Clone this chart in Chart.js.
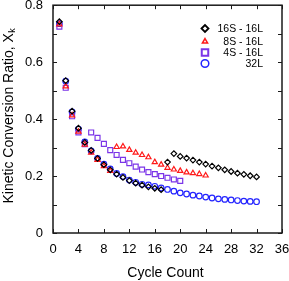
<!DOCTYPE html>
<html><head><meta charset="utf-8">
<script src="https://cdn.jsdelivr.net/npm/chart.js@4/dist/chart.umd.min.js"></script>
<style>html,body{margin:0;padding:0;background:#fff}#wrap{width:289px;height:281px;position:relative}</style>
</head><body><div id="wrap"><canvas id="c" width="289" height="281"></canvas></div>
<script>
const cycles16 = [1,2,3,4,5,6,7,8,9,10,11,12,13,14,15,16,17,18,19,20,21,22,23,24,25,26,27,28,29,30,31,32];
const values16 = [0.742,0.535,0.428,0.368,0.318,0.290,0.262,0.240,0.222,0.207,0.195,0.184,0.175,0.168,0.162,0.157,0.152,0.249,0.279,0.269,0.263,0.256,0.249,0.242,0.235,0.229,0.222,0.216,0.210,0.206,0.201,0.197];
const cycles8 = [1,2,3,4,5,6,7,8,9,10,11,12,13,14,15,16,17,18,19,20,21,22,23,24];
const values8 = [0.733,0.515,0.413,0.356,0.310,0.282,0.257,0.235,0.218,0.302,0.304,0.292,0.282,0.274,0.266,0.249,0.240,0.229,0.223,0.218,0.213,0.210,0.207,0.202];
const cycles4 = [1,2,3,4,5,6,7,8,9,10,11,12,13,14,15,16,17,18,19,20];
const values4 = [0.725,0.510,0.410,0.353,0.312,0.353,0.334,0.313,0.291,0.274,0.257,0.245,0.233,0.223,0.214,0.207,0.200,0.194,0.188,0.183];
const cycles32 = [1,2,3,4,5,6,7,8,9,10,11,12,13,14,15,16,17,18,19,20,21,22,23,24,25,26,27,28,29,30,31,32];
const values32 = [0.735,0.533,0.425,0.365,0.320,0.288,0.262,0.242,0.225,0.209,0.198,0.186,0.178,0.171,0.169,0.164,0.158,0.153,0.147,0.141,0.137,0.133,0.130,0.126,0.123,0.120,0.118,0.116,0.114,0.112,0.111,0.110];
const seriesNames = ['16S - 16L','8S - 16L','4S - 16L','32L'];
const xTickValues = [0,4,8,12,16,20,24,28,32,36];
const yTickValues = [0,0.2,0.4,0.6,0.8];
const yMinorTickValues = [0,0.1,0.2,0.3,0.4,0.5,0.6,0.7,0.8];
const xTitle = 'Cycle Count';
const yTitleMain = 'Kinetic Conversion Ratio, X';
const yTitleSub = 'k';

const FONT = '"Liberation Sans", Arial, sans-serif';
function pts(xs, ys){ return xs.map((x,i)=>({x:x,y:ys[i]})); }

const styles = [
  {color:'#000000', pointStyle:'rectRot', r:2.8, lr:3.5, lw:1.8},
  {color:'#FF1A1A', pointStyle:'triangle', r:3.0, lr:3.0, lw:1.5},
  {color:'#7B35E8', pointStyle:'rect', r:3.5, lr:4.6, lw:2.0},
  {color:'#2424FF', pointStyle:'circle', r:2.8, lr:3.8, lw:1.5}
];
const allData = [pts(cycles16,values16), pts(cycles8,values8), pts(cycles4,values4), pts(cycles32,values32)];

const datasets = allData.map((d,i)=>({
  label: seriesNames[i],
  data: d,
  showLine: false,
  borderColor: styles[i].color,
  backgroundColor: 'rgba(0,0,0,0)',
  pointStyle: styles[i].pointStyle,
  pointRadius: styles[i].r,
  pointBorderWidth: 1.2,
  pointBackgroundColor: 'rgba(0,0,0,0)',
  pointBorderColor: styles[i].color
}));

const decor = {
  id: 'decor',
  afterDraw(chart){
    const ctx = chart.ctx, a = chart.chartArea;
    const xs = chart.scales.x, ys = chart.scales.y;
    ctx.save();
    ctx.strokeStyle = '#1a1a1a';
    ctx.lineWidth = 1.5;
    ctx.strokeRect(a.left, a.top, a.right - a.left, a.bottom - a.top);
    ctx.lineWidth = 1;
    ctx.beginPath();
    const tl = 4;
    xTickValues.forEach(v=>{
      const px = Math.round(xs.getPixelForValue(v)) + 0.5;
      ctx.moveTo(px, a.bottom); ctx.lineTo(px, a.bottom - tl);
      ctx.moveTo(px, a.top); ctx.lineTo(px, a.top + tl);
    });
    yMinorTickValues.forEach(v=>{
      const py = Math.round(ys.getPixelForValue(v)) + 0.5;
      ctx.moveTo(a.left, py); ctx.lineTo(a.left + tl, py);
      ctx.moveTo(a.right, py); ctx.lineTo(a.right - tl, py);
    });
    ctx.stroke();

    // axis titles
    ctx.fillStyle = '#000';
    ctx.font = '14px ' + FONT;
    ctx.textAlign = 'center';
    ctx.textBaseline = 'middle';
    ctx.fillText(xTitle, (a.left + a.right)/2 - 2, 273);

    ctx.save();
    ctx.translate(9, (a.top + a.bottom)/2 - 3);
    ctx.rotate(-Math.PI/2);
    ctx.font = '14px ' + FONT;
    const w1 = ctx.measureText(yTitleMain).width;
    ctx.font = '9px ' + FONT;
    const w2 = ctx.measureText(yTitleSub).width;
    const start = -(w1 + w2)/2;
    ctx.textAlign = 'left';
    ctx.font = '14px ' + FONT;
    ctx.fillText(yTitleMain, start, 0);
    ctx.font = '9px ' + FONT;
    ctx.fillText(yTitleSub, start + w1 + 0.5, 4);
    ctx.restore();

    // legend
    const lx = 205, ly = [28.5, 41.5, 52.5, 63.5], tx = 263;
    chart.data.datasets.forEach((ds,i)=>{
      ctx.save();
      ctx.strokeStyle = ds.pointBorderColor;
      ctx.fillStyle = 'rgba(0,0,0,0)';
      ctx.lineWidth = styles[i].lw;
      Chart.helpers.drawPoint(ctx, {pointStyle: ds.pointStyle, radius: styles[i].lr, borderWidth: styles[i].lw, rotation: 0}, lx, ly[i]);
      ctx.restore();
      ctx.fillStyle = '#000';
      ctx.font = '10.5px ' + FONT;
      ctx.textAlign = 'right';
      ctx.textBaseline = 'middle';
      ctx.fillText(ds.label, tx, ly[i] + 0.5);
    });
    ctx.restore();
  }
};

new Chart(document.getElementById('c'), {
  type: 'scatter',
  data: { datasets: datasets },
  options: {
    responsive: false,
    devicePixelRatio: 1,
    animation: false,
    layout: { padding: { left: 0, right: 7, top: 5, bottom: 0 } },
    plugins: { legend: { display: false }, tooltip: { enabled: false } },
    scales: {
      x: {
        type: 'linear', min: 0, max: 36,
        grid: { display: false, drawTicks: false },
        border: { display: false },
        afterBuildTicks: s => { s.ticks = xTickValues.map(v=>({value:v})); },
        ticks: { color: '#000', font: { family: FONT, size: 13 }, padding: 9, maxRotation: 0, autoSkip: false },
        afterFit: s => { s.height = 48; s.paddingLeft = 0; s.paddingRight = 0; }
      },
      y: {
        type: 'linear', min: 0, max: 0.8,
        grid: { display: false, drawTicks: false },
        border: { display: false },
        afterBuildTicks: s => { s.ticks = yTickValues.map(v=>({value:v})); },
        ticks: { color: '#000', font: { family: FONT, size: 13 }, padding: 10, callback: v => String(+v.toFixed(1)) },
        afterFit: s => { s.width = 53; s.paddingTop = 0; s.paddingBottom = 0; }
      }
    }
  },
  plugins: [decor]
});
</script>
</body></html>
